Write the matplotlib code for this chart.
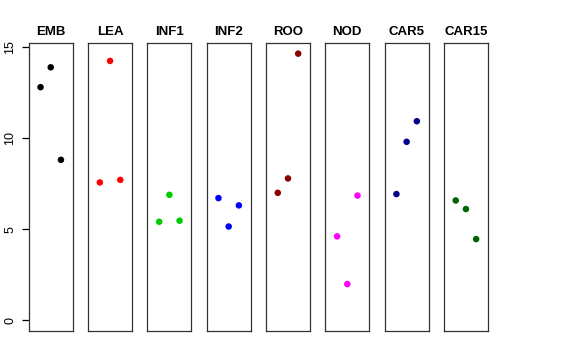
import numpy as np
import matplotlib
matplotlib.use("Agg")
from matplotlib import pyplot as plt

plt.rcParams['font.family'] = ['Liberation Sans', 'DejaVu Sans']

groups = ['EMB', 'LEA', 'INF1', 'INF2', 'ROO', 'NOD', 'CAR5', 'CAR15']
colors = ['black', 'red', '#00CD00', 'blue', '#8B0000', 'magenta', '#00008B', '#006400']
positions = [1, 2, 3]

emb = [12.80, 13.89, 8.81]
lea = [7.57, 14.24, 7.71]
inf1 = [5.41, 6.89, 5.47]
inf2 = [6.71, 5.15, 6.31]
roo = [7.00, 7.79, 14.64]
nod = [4.61, 1.99, 6.85]
car5 = [6.93, 9.80, 10.93]
car15 = [6.58, 6.11, 4.46]
values = [emb, lea, inf1, inf2, roo, nod, car5, car15]

yticks = [0, 5, 10, 15]

fig, axes = plt.subplots(1, 8, figsize=(5.76, 3.6), dpi=100, sharey=True)
fig.subplots_adjust(left=0.0498, right=0.8472, top=0.8806, bottom=0.0806, wspace=0.345)

ymax = max(max(v) for v in values)
pad = 0.04 * ymax

for ax, name, col, vals in zip(axes, groups, colors, values):
    ax.scatter(positions, vals, s=22, color=col, edgecolors='none', zorder=3)
    ax.set_xlim(-0.16, 4.16)
    ax.set_ylim(-pad, ymax + pad)
    ax.set_xticks([])
    ax.set_title(name, fontsize=9.5, fontweight='bold', pad=6)
    for sp in ax.spines.values():
        sp.set_color('#333333')
        sp.set_linewidth(0.9)
    ax.tick_params(axis='y', length=0)

axes[0].set_yticks(yticks)
axes[0].set_yticklabels([str(t) for t in yticks], rotation=90, va='center', fontsize=9)
axes[0].tick_params(axis='y', length=5, width=0.9, pad=4, color='black')
for ax in axes[1:]:
    ax.tick_params(axis='y', left=False, labelleft=False)

fig.savefig('out.png', dpi=100)
